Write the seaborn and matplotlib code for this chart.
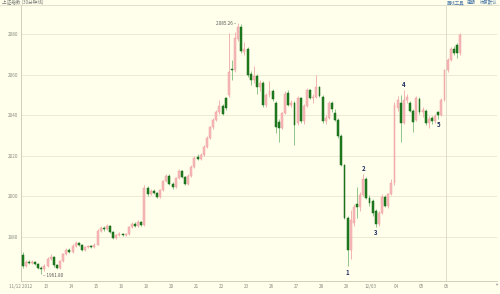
import numpy as np
import pandas as pd
import matplotlib
matplotlib.use("Agg")
import matplotlib.pyplot as plt
from matplotlib.lines import Line2D
import seaborn as sns

# ---------------- data (30-minute candles) ----------------
opens = [1971.1, 1965.7, 1967.7, 1967.2, 1967.9, 1966.7, 1964.8, 1964.2, 1965.8, 1969.2,
         1970.0, 1966.0, 1964.9, 1968.0, 1971.5, 1973.8, 1972.6, 1975.6, 1977.0, 1976.2,
         1973.8, 1975.0, 1975.6, 1975.1, 1976.3, 1983.2, 1984.6, 1983.8, 1985.6, 1982.4,
         1979.6, 1980.8, 1981.6, 1981.0, 1981.4, 1984.8, 1986.6, 1985.4, 1987.5, 1986.0,
         2004.2, 2001.0, 2002.8, 2001.6, 1999.6, 2003.0, 2007.5, 2010.3, 2006.2, 2004.4,
         2009.0, 2012.6, 2009.6, 2006.0, 2010.0, 2014.5, 2019.5, 2018.6, 2020.6, 2024.5,
         2029.0, 2034.0, 2037.8, 2041.5, 2044.6, 2048.4, 2050.0, 2063.0, 2062.4, 2077.5,
         2083.5, 2071.0, 2072.6, 2060.5, 2057.5, 2059.5, 2054.0, 2056.0, 2045.0, 2050.0,
         2052.0, 2046.0, 2036.5, 2033.5, 2041.0, 2050.8, 2045.2, 2046.0, 2036.0, 2048.5,
         2037.0, 2044.5, 2052.2, 2048.5, 2049.0, 2053.8, 2049.0, 2037.0, 2038.5, 2046.0,
         2041.2, 2037.8, 2030.0, 2015.5, 1989.5, 1973.6, 1987.0, 1996.5, 1994.6, 2000.5,
         2008.5, 1999.2, 1997.5, 1993.0, 1986.2, 1992.0, 1999.7, 1995.5, 2001.0, 2006.5,
         2043.5, 2046.0, 2036.2, 2047.5, 2046.0, 2042.0, 2037.5, 2048.0, 2041.5, 2042.0,
         2036.2, 2038.5, 2037.0, 2041.5, 2040.1, 2047.5, 2062.3, 2067.2, 2072.5, 2074.6,
         2070.6]
highs = [1972.6, 1968.7, 1968.5, 1968.6, 1968.4, 1967.2, 1965.5, 1966.5, 1970.0, 1971.5,
         1970.6, 1966.8, 1968.6, 1972.2, 1974.5, 1974.6, 1976.4, 1977.9, 1977.7, 1976.8,
         1975.8, 1976.3, 1976.2, 1977.0, 1984.0, 1985.5, 1985.2, 1986.5, 1986.0, 1982.9,
         1981.5, 1982.3, 1982.2, 1982.0, 1985.6, 1987.4, 1987.2, 1988.3, 1988.0, 2005.4,
         2005.0, 2003.6, 2003.5, 2002.2, 2003.7, 2008.2, 2011.2, 2010.9, 2006.9, 2009.7,
         2013.5, 2013.2, 2010.2, 2010.8, 2015.3, 2019.8, 2020.8, 2021.4, 2025.3, 2029.8,
         2034.8, 2038.6, 2042.4, 2047.5, 2045.4, 2049.2, 2080.5, 2067.0, 2080.8, 2085.26,
         2084.8, 2076.0, 2073.4, 2061.8, 2064.0, 2060.3, 2057.5, 2056.8, 2051.0, 2057.0,
         2052.8, 2046.8, 2038.0, 2041.8, 2052.0, 2052.4, 2047.5, 2046.8, 2049.5, 2049.2,
         2045.5, 2053.5, 2053.0, 2050.5, 2059.8, 2054.6, 2049.8, 2040.0, 2047.0, 2046.8,
         2043.0, 2038.4, 2030.8, 2016.2, 1990.5, 1993.3, 1996.5, 2004.5, 2002.0, 2010.8,
         2009.5, 2000.5, 1998.5, 1994.0, 1993.0, 2001.0, 2000.8, 2001.8, 2008.5, 2046.5,
         2049.5, 2049.8, 2052.5, 2050.5, 2047.0, 2043.0, 2049.5, 2049.0, 2044.0, 2043.0,
         2039.5, 2039.5, 2040.5, 2042.0, 2048.3, 2063.0, 2068.0, 2073.5, 2074.0, 2075.5,
         2080.5]
lows = [1964.7, 1965.2, 1966.5, 1966.8, 1966.0, 1964.0, 1961.8, 1963.2, 1965.3, 1968.6,
        1965.4, 1964.0, 1964.3, 1967.5, 1971.0, 1972.0, 1972.2, 1975.0, 1975.5, 1973.0,
        1973.2, 1974.4, 1974.5, 1974.6, 1975.9, 1982.6, 1983.0, 1983.3, 1982.0, 1979.0,
        1979.2, 1980.3, 1980.5, 1980.4, 1981.0, 1984.3, 1984.9, 1985.0, 1985.5, 1985.6,
        2000.4, 2000.5, 2001.0, 1999.0, 1999.2, 2002.5, 2007.0, 2005.7, 2003.8, 2004.0,
        2008.5, 2009.0, 2005.4, 2005.6, 2009.5, 2014.0, 2017.8, 2018.0, 2020.0, 2024.0,
        2028.5, 2033.4, 2037.2, 2040.8, 2040.0, 2042.8, 2049.0, 2057.5, 2061.5, 2076.5,
        2070.8, 2069.8, 2059.0, 2055.0, 2056.0, 2050.5, 2052.0, 2044.0, 2044.0, 2049.0,
        2047.0, 2031.0, 2027.0, 2033.0, 2040.5, 2044.5, 2044.0, 2025.5, 2035.0, 2036.0,
        2035.5, 2043.8, 2048.0, 2046.0, 2048.5, 2048.8, 2036.0, 2035.5, 2038.0, 2041.5,
        2037.0, 2029.0, 2014.8, 1988.8, 1965.5, 1969.0, 1985.5, 1989.5, 1993.0, 2000.0,
        1998.5, 1995.5, 1990.5, 1985.0, 1985.6, 1991.5, 1994.8, 1994.5, 2000.5, 2005.8,
        2042.0, 2026.8, 2035.5, 2046.0, 2041.5, 2031.7, 2037.0, 2040.5, 2039.0, 2035.0,
        2033.5, 2035.5, 2036.3, 2038.3, 2039.6, 2047.0, 2061.5, 2066.5, 2069.5, 2068.2,
        2069.8]
closes = [1965.7, 1967.7, 1967.2, 1967.9, 1966.7, 1964.8, 1964.2, 1965.8, 1969.2, 1970.0,
          1966.0, 1964.9, 1968.0, 1971.5, 1973.8, 1972.6, 1975.6, 1977.0, 1976.2, 1973.8,
          1975.0, 1975.6, 1975.1, 1976.3, 1983.2, 1984.6, 1983.8, 1985.6, 1982.4, 1979.6,
          1980.8, 1981.6, 1981.0, 1981.4, 1984.8, 1986.6, 1985.4, 1987.5, 1986.0, 2004.2,
          2001.0, 2002.8, 2001.6, 1999.6, 2003.0, 2007.5, 2010.3, 2006.2, 2004.4, 2009.0,
          2012.6, 2009.6, 2006.0, 2010.0, 2014.5, 2019.0, 2018.6, 2020.6, 2024.5, 2029.0,
          2034.0, 2037.8, 2041.5, 2044.6, 2040.6, 2043.6, 2061.5, 2062.4, 2078.0, 2083.5,
          2071.5, 2072.6, 2060.0, 2057.5, 2059.5, 2054.0, 2056.0, 2045.0, 2050.0, 2052.0,
          2048.0, 2034.0, 2033.5, 2041.0, 2050.5, 2045.2, 2046.2, 2035.4, 2048.5, 2037.0,
          2044.5, 2052.2, 2048.5, 2049.0, 2053.8, 2049.3, 2037.0, 2038.5, 2046.0, 2043.0,
          2037.8, 2030.0, 2015.5, 1989.5, 1973.6, 1988.4, 1995.0, 1994.6, 2000.5, 2008.5,
          1999.2, 1996.8, 1991.8, 1986.2, 1992.0, 1999.7, 1995.5, 2001.0, 2006.5, 2045.0,
          2047.5, 2036.2, 2047.5, 2049.0, 2042.0, 2036.5, 2048.5, 2041.5, 2042.6, 2036.2,
          2038.0, 2037.0, 2039.5, 2040.1, 2047.5, 2062.3, 2067.2, 2072.5, 2070.6, 2070.6,
          2079.5]

day_labels = ["11/12 2012", "13", "14", "15", "16", "19", "20", "21", "22", "23",
              "26", "27", "28", "29", "12/03", "04", "05", "06"]
bars_per_day = 8
y_ticks = [1980, 2000, 2020, 2040, 2060, 2080]
title_text = "上证指数 (30分钟线)"
button_texts = ["画线工具", "周期", "恢复默认"]
wave_names = ["1", "2", "3", "4", "5"]
wave_bars = [104, 109, 113, 122, 133]
wave_at_high = [False, True, False, True, False]
high_text = "2085.26"
low_text = "1961.80"

# ---------------- style ----------------
sns.set_theme(style="white")
plt.rcParams['font.family'] = ['Noto Sans CJK SC', 'DejaVu Sans']

BG = "#FFFFEB"
UP_BODY, UP_EDGE, UP_WICK = "#F7B9B9", "#EFA0A0", "#F1A9A9"
DN_BODY, DN_EDGE, DN_WICK = "#1F7F1F", "#176617", "#7DBE7D"
GRID = "#ECEAD3"
AXC = "#C9C7B2"
TXT = "#8A8A80"

df = pd.DataFrame({"open": opens, "high": highs, "low": lows, "close": closes})
df["bar"] = np.arange(len(df))
df["up"] = df["close"] >= df["open"]
df["bottom"] = df[["open", "close"]].min(axis=1)
df["height"] = (df["close"] - df["open"]).abs().clip(lower=0.45)

fig = plt.figure(figsize=(5.0, 2.94), dpi=100, facecolor=BG)
ax = fig.add_axes([21 / 500, 13 / 294, 476 / 500, 276 / 294])
ax.set_facecolor(BG)

# grid lines
for v in y_ticks:
    ax.axhline(v, color=GRID, lw=0.7, zorder=0)
ax.axvline(bars_per_day * (len(day_labels) - 1) - 0.5, color="#DAD8C4", lw=0.6, zorder=0)

# candles
for up, wick, body, edge in [(True, UP_WICK, UP_BODY, UP_EDGE), (False, DN_WICK, DN_BODY, DN_EDGE)]:
    d = df[df["up"] == up]
    ax.vlines(d["bar"], d["low"], d["high"], colors=wick, lw=0.6, zorder=2)
    ax.bar(d["bar"], d["height"], bottom=d["bottom"], width=0.62, color=body,
           edgecolor=edge, linewidth=0.35, zorder=3)

ax.set_xlim(-0.5, 151.8)
ax.set_ylim(1958.33, 2094.29)

ax.set_yticks(y_ticks)
ax.set_yticklabels([str(v) for v in y_ticks])
ax.set_xticks([bars_per_day * k - 0.5 for k in range(len(day_labels))])
ax.set_xticklabels(day_labels)
ax.tick_params(axis="both", length=0, labelsize=3.3, labelcolor=TXT)
ax.tick_params(axis="y", pad=2)
ax.tick_params(axis="x", pad=2.5)

for s in ["top", "right"]:
    ax.spines[s].set_visible(False)
for s in ["left", "bottom"]:
    ax.spines[s].set_color(AXC)
    ax.spines[s].set_linewidth(0.6)

# wave labels
for name, b, hi in zip(wave_names, wave_bars, wave_at_high):
    if hi:
        ax.annotate(name, (b, df.loc[b, "high"]), xytext=(0, 1.5), textcoords="offset points",
                    ha="center", va="bottom", fontsize=4.3, color="#1C2A5E", fontweight="bold")
    else:
        ax.annotate(name, (b, df.loc[b, "low"]), xytext=(0, -1.5), textcoords="offset points",
                    ha="center", va="top", fontsize=4.3, color="#1C2A5E", fontweight="bold")

# extreme labels
hi_bar = int(df["high"].idxmax())
lo_bar = int(df["low"].idxmin())
ax.annotate(high_text + " –", (hi_bar, df.loc[hi_bar, "high"]), xytext=(-1.5, 0),
            textcoords="offset points", ha="right", va="center", fontsize=3.3, color="#555555")
ax.annotate("– " + low_text, (lo_bar, df.loc[lo_bar, "low"]), xytext=(1.0, -1.0),
            textcoords="offset points", ha="left", va="center", fontsize=3.3, color="#555555")

# header line, title, buttons
fig.add_artist(Line2D([0, 1], [1 - 5 / 294, 1 - 5 / 294], color="#DEDCC6", lw=0.6))
fig.text(2 / 500, 1 - 2.5 / 294, title_text, fontsize=3.3, color="#777777", ha="left", va="center")
for txt, xp in zip(button_texts, [447, 467, 480]):
    fig.text(xp / 500, 1 - 2.5 / 294, txt, fontsize=3.2, color="#4A78A8", ha="left", va="center")

# axis arrow at right end
fig.add_artist(Line2D([497 / 500], [1 - 284 / 294], marker=">", markersize=1.6, color="#999999",
                      markeredgewidth=0))

fig.savefig("out.png", dpi=100, facecolor=BG)
